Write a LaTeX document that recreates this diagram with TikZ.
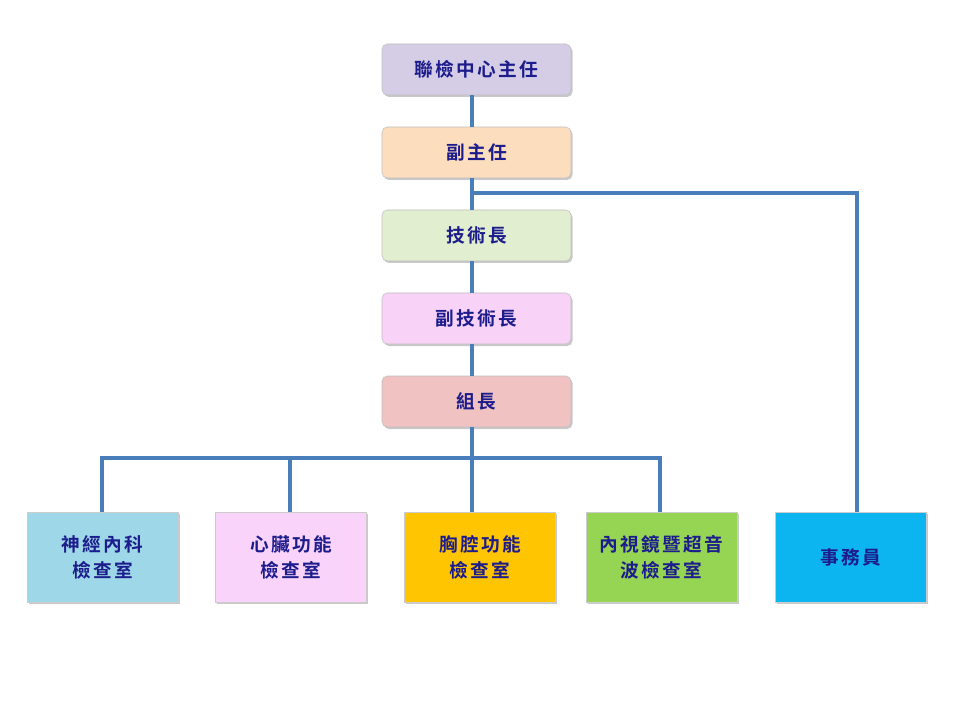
\documentclass[tikz,border=0pt]{standalone}
\usepackage{fontspec}
\newfontfamily\cjk{Noto Sans CJK TC}[BoldFont={* Bold},LetterSpace=12]
\usetikzlibrary{shadows}
\definecolor{txt}{HTML}{1C1C8C}
\definecolor{ln}{HTML}{4A7EBB}
\definecolor{c1}{HTML}{D5CCE6}
\definecolor{c2}{HTML}{FCDDBE}
\definecolor{c3}{HTML}{E1EECF}
\definecolor{c4}{HTML}{F9D2F8}
\definecolor{c5}{HTML}{F0C2C2}
\definecolor{b1}{HTML}{9ED8E8}
\definecolor{b2}{HTML}{FAD3FA}
\definecolor{b3}{HTML}{FFC500}
\definecolor{b4}{HTML}{96D453}
\definecolor{b5}{HTML}{0CB4F0}
\tikzset{
  topbox/.style={draw=black!25, line width=0.4pt, rounded corners=4pt, minimum width=141.75pt, minimum height=38.25pt,
    font=\cjk\bfseries\fontsize{14}{16}\selectfont, text=txt, align=center,
    drop shadow={shadow xshift=1.2pt, shadow yshift=-1.5pt, opacity=0.35, fill=black!60}},
  botbox/.style={draw=black!20, line width=0.4pt, minimum width=113.25pt, minimum height=67.5pt,
    font=\cjk\bfseries\fontsize{14}{19.5}\selectfont, text=txt, align=center,
    drop shadow={shadow xshift=1.2pt, shadow yshift=-1.5pt, opacity=0.35, fill=black!60}},
  conn/.style={draw=ln, line width=3pt}
}
\begin{document}
\begin{tikzpicture}[x=0.75pt,y=-0.75pt]
\useasboundingbox[fill=white] (0,0) rectangle (960,720);
\coordinate (t) at (472,0);
\coordinate (hr) at (857,193);
\coordinate (hb) at (0,458);
\node[topbox, fill=c1] (n1) at (476.5,69.5) {聯檢中心主任};
\node[topbox, fill=c2] (n2) at (476.5,152.5) {副主任};
\node[topbox, fill=c3] (n3) at (476.5,235.5) {技術長};
\node[topbox, fill=c4] (n4) at (476.5,318.5) {副技術長};
\node[topbox, fill=c5] (n5) at (476.5,401.5) {組長};
\node[botbox, fill=b1] (m1) at (102.5,557) {神經內科\\檢查室};
\node[botbox, fill=b2] (m2) at (291,557) {心臟功能\\檢查室};
\node[botbox, fill=b3] (m3) at (480,557) {胸腔功能\\檢查室};
\node[botbox, fill=b4] (m4) at (661.5,557) {內視鏡暨超音\\波檢查室};
\node[botbox, fill=b5] (m5) at (851,557) {事務員};
\coordinate (p1) at (102,0);
\coordinate (p2) at (290,0);
\coordinate (p4) at (660,0);
\draw[conn] (n1.south -| t) -- (n2.north -| t);
\draw[conn] (n2.south -| t) -- (n3.north -| t);
\draw[conn] (n3.south -| t) -- (n4.north -| t);
\draw[conn] (n4.south -| t) -- (n5.north -| t);
\draw[conn] (hr -| t) -- (hr) -- (m5.north -| hr);
\draw[conn] (n5.south -| t) -- (m3.north -| t);
\draw[conn] (m1.north -| p1) -- (hb -| p1) -- (hb -| p4) -- (m4.north -| p4);
\draw[conn] (hb -| p2) -- (m2.north -| p2);
\end{tikzpicture}
\end{document}
